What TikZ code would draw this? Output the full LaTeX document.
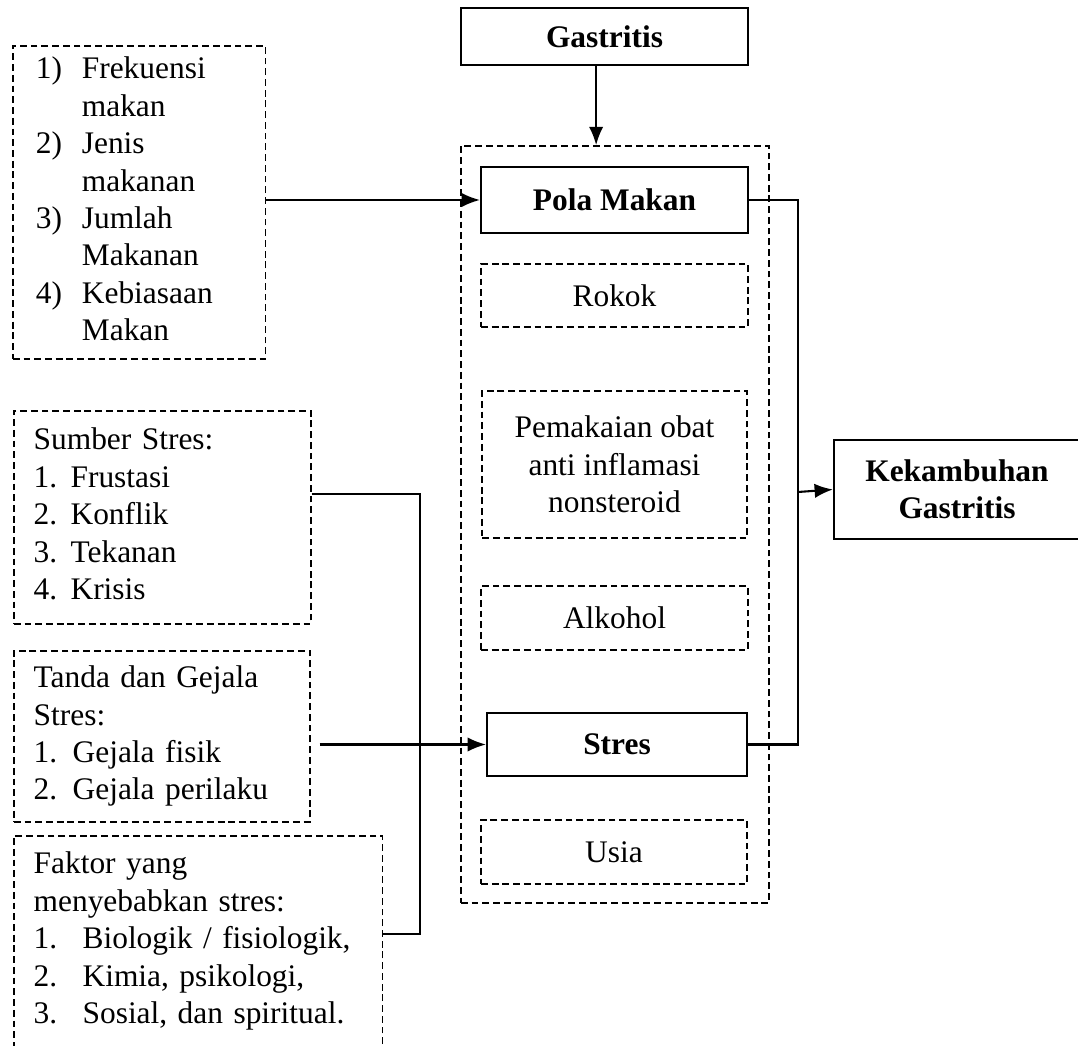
\documentclass[tikz,border=0pt]{standalone}
\usepackage{fontspec}
\setmainfont{Liberation Serif}
\usetikzlibrary{arrows.meta}

\begin{document}
\begin{tikzpicture}[x=0.382pt,y=-0.382pt,>={Latex[length=7pt,width=5.5pt]},
  every node/.style={font=\fontsize{12}{14.3}\selectfont,inner sep=0pt},
  kotak/.style={draw,line width=0.8pt,align=center},
  putus/.style={draw,line width=0.6pt,dash pattern=on 2.6pt off 1.5pt},
  daftar/.style={putus,anchor=north west,align=left,inner xsep=7.6pt},
  garis/.style={line width=0.8pt}]

\clip (0,0) rectangle (1078,1046);

% kolom tengah
\node[kotak,minimum width=109.6pt,minimum height=21.8pt] (gastritis) at (604.5,36.5) {\textbf{Gastritis}};
\node[putus,minimum width=117.7pt,minimum height=289.2pt] (risiko) at (615,524.5) {};
\node[kotak,minimum width=102pt,minimum height=25.2pt] (pola) at (614.5,200) {\textbf{Pola Makan}};
\node[putus,minimum width=102pt,minimum height=24.1pt] (rokok) at (614.5,295.5) {Rokok};
\node[putus,minimum width=101.2pt,minimum height=56.2pt,align=center] (obat) at (614.5,464.5) {Pemakaian obat\\anti inflamasi\\nonsteroid};
\node[putus,minimum width=102pt,minimum height=24.4pt] (alkohol) at (614.5,618) {Alkohol};
\node[kotak,minimum width=99.3pt,minimum height=24.1pt] (stres) at (617,744.5) {\textbf{Stres}};
\node[putus,minimum width=101.6pt,minimum height=24.4pt] (usia) at (614,852) {Usia};
\node[kotak,minimum width=94pt,minimum height=37.8pt] (kekambuhan) at (957,489.5) {\textbf{Kekambuhan}\\\textbf{Gastritis}};

% kolom kiri
\node[daftar,inner xsep=8.8pt,text width=79pt,minimum height=119.6pt] (frekuensi) at (12,45) {%
\begin{tabular}{@{}p{17.6pt}@{}l@{}}
1) & Frekuensi\\
 & makan\\
2) & Jenis\\
 & makanan\\
3) & Jumlah\\
 & Makanan\\
4) & Kebiasaan\\
 & Makan
\end{tabular}};
\node[daftar,text width=98.3pt,minimum height=81.4pt] (sumber) at (13,410) {%
\begin{tabular}{@{}p{14.1pt}@{}l@{}}
\multicolumn{2}{@{}l@{}}{Sumber Stres:}\\
1. & Frustasi\\
2. & Konflik\\
3. & Tekanan\\
4. & Krisis
\end{tabular}};
\node[daftar,text width=97.9pt,minimum height=65.3pt] (tanda) at (13,650) {%
\begin{tabular}{@{}p{14.9pt}@{}l@{}}
\multicolumn{2}{@{}l@{}}{Tanda dan Gejala}\\
\multicolumn{2}{@{}l@{}}{Stres:}\\
1. & Gejala fisik\\
2. & Gejala perilaku
\end{tabular}};
\node[daftar,text width=125.7pt,inner ysep=4.5pt] (faktor) at (13,835) {%
\begin{tabular}{@{}p{18.7pt}@{}l@{}}
\multicolumn{2}{@{}l@{}}{Faktor yang}\\
\multicolumn{2}{@{}l@{}}{menyebabkan stres:}\\
1. & Biologik / fisiologik,\\
2. & Kimia, psikologi,\\
3. & Sosial, dan spiritual.\\[14pt]
\end{tabular}};

\coordinate (temu) at (798,492);
\coordinate (simpul) at (420,934);

\draw[garis,->] ([xshift=-3.2pt]gastritis.south) -- ([xshift=-3.2pt]gastritis.south |- risiko.north);
\draw[garis,->] (frekuensi.east |- pola.west) -- (pola.west);
\draw[garis] (pola.east) -| (temu) |- (stres.east);
\draw[garis,->] (temu) -- (kekambuhan.west);
\draw[garis] ([yshift=9pt]sumber.east) -| (simpul) -- (simpul -| faktor.east);
\draw[garis,->,shorten <=3.4pt] (tanda.east |- stres.west) -- (stres.west);

\end{tikzpicture}
\end{document}
